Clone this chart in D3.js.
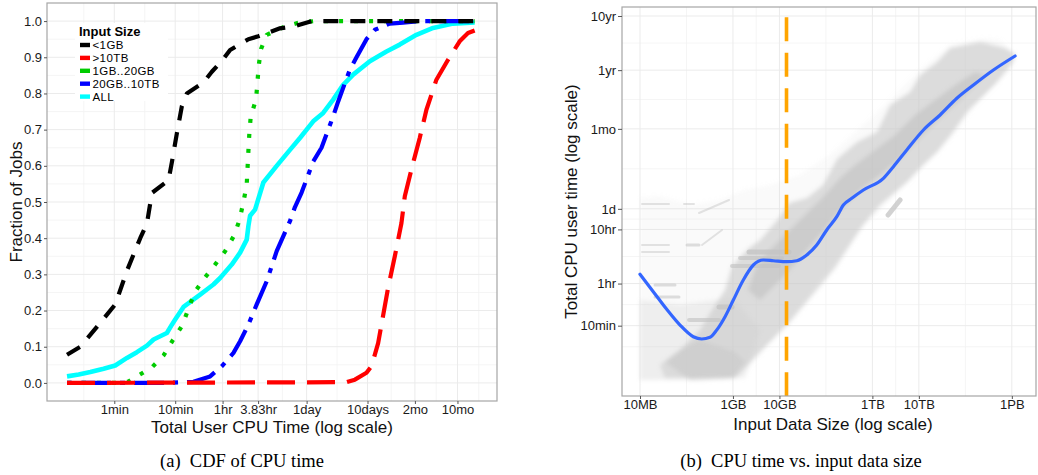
<!DOCTYPE html>
<html><head><meta charset="utf-8">
<script src="https://cdn.jsdelivr.net/npm/d3@7"></script>
<style>
html,body{margin:0;padding:0;background:#fff;}
svg{display:block;font-family:"Liberation Sans",Arial,Helvetica,sans-serif;}
</style></head><body>
<svg id="chart" width="1038" height="475"></svg>
<script>
// ---------------- DATA: left panel (CDF), x = log10(seconds), y = fraction ----------------
const cpuTickLabels = ["1min","10min","1hr","3.83hr","1day","10days","2mo","10mo"];
const cpuTickSeconds = [60, 600, 3600, 13788, 86400, 864000, 5184000, 25920000];
const fracTicks = [0.0,0.1,0.2,0.3,0.4,0.5,0.6,0.7,0.8,0.9,1.0];
const seriesNames = ["<1GB", ">10TB", "1GB..20GB", "20GB..10TB", "ALL"];

const cdfLt1GB = [[1.002,0.078],[1.221,0.10],[1.548,0.166],[1.794,0.217],[1.986,0.31],[2.204,0.40],[2.314,0.44],[2.396,0.525],[2.668,0.56],[2.724,0.61],[2.806,0.69],[2.888,0.765],[2.970,0.80],[3.242,0.83],[3.38,0.86],[3.543,0.89],[3.68,0.92],[3.98,0.95],[4.144,0.958],[4.499,0.98],[4.717,0.985],[5.02,1.0],[7.696,1.0]];
const cdfGt10TB = [[1.002,0],[5.592,0.002],[5.729,0.009],[5.92,0.028],[6.002,0.046],[6.111,0.11],[6.275,0.263],[6.385,0.35],[6.494,0.442],[6.549,0.516],[6.685,0.608],[6.794,0.677],[6.904,0.755],[7.068,0.838],[7.259,0.893],[7.45,0.944],[7.587,0.967],[7.696,0.974]];
const cdf1to20GB = [[1.002,0],[1.849,0],[2.0,0.003],[2.149,0.018],[2.396,0.043],[2.587,0.076],[2.74,0.118],[2.888,0.157],[2.997,0.205],[3.096,0.25],[3.253,0.288],[3.434,0.327],[3.598,0.364],[3.745,0.407],[3.832,0.449],[3.898,0.499],[3.953,0.548],[3.98,0.64],[3.996,0.69],[4.019,0.737],[4.106,0.783],[4.128,0.829],[4.15,0.877],[4.188,0.923],[4.281,0.962],[4.554,0.983],[4.816,0.996],[5.073,1.0],[7.696,1.0]];
const cdf20GBto10TB = [[1.002,0],[2.642,0],[3.078,0.003],[3.352,0.018],[3.543,0.046],[3.735,0.083],[3.844,0.115],[3.98,0.161],[4.117,0.217],[4.281,0.281],[4.445,0.364],[4.663,0.447],[4.745,0.486],[4.854,0.526],[5.045,0.612],[5.181,0.65],[5.373,0.737],[5.455,0.778],[5.647,0.866],[5.756,0.9],[5.92,0.95],[6.057,0.976],[6.302,0.993],[6.521,0.996],[6.794,1.0],[7.696,1.0]];
const cdfAll = [[1.002,0.018],[1.193,0.023],[1.385,0.03],[1.603,0.039],[1.794,0.048],[1.986,0.069],[2.149,0.085],[2.314,0.103],[2.423,0.12],[2.642,0.138],[2.724,0.161],[2.778,0.175],[2.915,0.21],[3.188,0.244],[3.406,0.272],[3.516,0.29],[3.707,0.327],[3.844,0.36],[3.953,0.396],[3.98,0.433],[4.008,0.462],[4.09,0.479],[4.226,0.554],[4.445,0.6],[4.663,0.644],[4.827,0.677],[5.045,0.723],[5.209,0.746],[5.373,0.783],[5.537,0.824],[5.701,0.852],[5.975,0.889],[6.248,0.916],[6.466,0.935],[6.74,0.962],[7.013,0.981],[7.34,0.993],[7.696,0.996]];

// ---------------- DATA: right panel, x = log10(bytes), y = log10(seconds) ----------------
const sizeTickLabels = ["10MB","1GB","10GB","1TB","10TB","1PB"];
const sizeTickBytes = [1e7, 1e9, 1e10, 1e12, 1e13, 1e15];
const timeTickLabels = ["10min","1hr","10hr","1d","1mo","1yr","10yr"];
const timeTickSeconds = [600, 3600, 36000, 86400, 2592000, 31536000, 315360000];
const thresholdBytes = 1.42e10;
const thresholdTopSeconds = 3.0e8;

const smoothFit = [[7.0,3.727],[7.286,3.406],[7.575,3.081],[7.861,2.79],[8.147,2.574],[8.328,2.532],[8.507,2.563],[8.651,2.698],[8.83,2.944],[9.008,3.252],[9.223,3.622],[9.439,3.899],[9.654,3.991],[9.869,3.978],[10.158,3.96],[10.373,3.978],[10.588,4.084],[10.803,4.268],[11.018,4.546],[11.234,4.791],[11.376,5.007],[11.557,5.131],[11.806,5.284],[12.237,5.501],[12.452,5.715],[12.74,6.023],[13.098,6.393],[13.457,6.67],[13.817,6.979],[14.174,7.224],[14.604,7.501],[15.071,7.76]];

// point cloud, read as regions of increasing density
const cloudSparse = [[7.000,5.137],[7.430,5.174],[8.076,5.007],[8.722,5.100],[9.260,5.284],[9.798,5.377],[10.444,5.562],[11.090,5.931],[11.735,6.430],[12.381,6.947],[13.027,7.501],[13.672,7.963],[14.426,8.093],[14.749,8.056],[15.071,7.778],[14.964,7.501],[14.641,7.224],[14.210,6.855],[13.780,6.338],[13.350,5.931],[12.811,5.469],[12.273,5.007],[11.735,4.546],[11.305,4.084],[10.874,3.659],[10.444,3.160],[10.013,2.698],[9.583,2.236],[9.152,1.811],[8.291,1.756],[7.000,1.774]];
const cloudLowLeft = [[7.0,3.252],[7.861,3.160],[8.614,3.252],[9.045,3.252],[9.583,2.698],[9.260,1.811],[7.0,1.774]];
const cloudBand = [[8.076,1.774],[9.045,1.811],[9.690,2.384],[10.207,2.827],[10.767,3.400],[11.197,3.844],[11.520,4.268],[11.800,4.638],[12.166,5.007],[12.747,5.432],[13.091,5.746],[13.393,5.987],[13.737,6.356],[14.038,6.726],[14.318,6.966],[14.684,7.280],[15.028,7.649],[15.071,7.797],[14.856,7.908],[14.598,7.963],[14.318,8.019],[13.672,7.908],[13.393,7.649],[13.027,7.409],[12.811,7.095],[12.381,6.855],[12.101,6.356],[11.671,6.171],[11.240,5.857],[10.939,5.377],[10.594,5.137],[10.207,5.044],[9.992,4.767],[9.583,4.361],[9.346,4.213],[8.980,3.880],[8.830,3.437],[8.614,3.160],[8.291,2.698],[7.861,2.329],[7.538,2.107]];
const cloudCore = [[9.583,3.252],[10.121,3.714],[10.444,4.028],[10.874,4.453],[11.305,4.915],[11.735,5.284],[12.166,5.562],[12.596,5.876],[13.027,6.245],[13.457,6.615],[13.888,6.947],[14.210,7.224],[14.426,7.409],[14.210,7.464],[13.780,7.224],[13.350,6.947],[12.919,6.670],[12.489,6.301],[12.058,6.023],[11.628,5.746],[11.305,5.506],[10.982,5.192],[10.659,4.915],[10.336,4.638],[10.013,4.361],[9.690,4.084],[9.475,3.807],[9.325,3.437]];
const cloudLowBlob = [[7.538,1.811],[8.980,1.811],[9.260,2.107],[9.045,2.292],[8.614,2.421],[8.291,2.513],[7.861,2.329],[7.430,2.052]];
// streaks: [x1, x2, y1, y2, weight]
const cloudStreaks = [[7.043,7.624,5.026,5.026,2],[7.947,8.162,5.026,5.026,2],[8.012,8.270,4.268,4.268,3],[7.043,7.624,4.268,4.268,2],[7.043,7.624,4.139,4.139,2],[7.323,7.753,3.529,3.529,3],[7.323,7.839,3.308,3.308,3],[8.055,8.700,2.883,2.883,4],[8.700,8.980,3.123,3.123,5],[8.980,9.992,3.880,3.880,4],[9.346,10.207,4.139,4.139,5],[9.152,10.056,4.028,4.028,4],[8.270,8.916,4.860,5.100,2],[8.334,8.765,4.268,4.546,2],[12.338,12.596,4.823,5.100,5]];

// ---------------- DRAWING ----------------
const svg = d3.select("#chart");
const p10 = v => Math.pow(10, v);
const FONT = '"Liberation Sans",Arial,Helvetica,sans-serif';

// ===== Left panel =====
const L = {x0:47, x1:497, y0:3, y1:401};
const xL = d3.scaleLog().domain([p10(0.673), p10(8.063)]).range([L.x0, L.x1]);
const yL = d3.scaleLinear().domain([-0.05, 1.05]).range([L.y1, L.y0]);
const gL = svg.append("g");
gL.append("rect").attr("x",L.x0).attr("y",L.y0).attr("width",L.x1-L.x0).attr("height",L.y1-L.y0).attr("fill","#fff");
const lg = cpuTickSeconds.map(Math.log10);
const minorX = [lg[0]-(lg[1]-lg[0])/2];
for (let i=0;i<lg.length-1;i++) minorX.push((lg[i]+lg[i+1])/2);
minorX.push(lg[lg.length-1]+(lg[lg.length-1]-lg[lg.length-2])/2);
gL.selectAll(".mx").data(minorX).join("line").attr("x1",d=>xL(p10(d))).attr("x2",d=>xL(p10(d))).attr("y1",L.y0).attr("y2",L.y1).attr("stroke","#f3f3f3").attr("stroke-width",0.8);
const minorY = fracTicks.slice(0,-1).map((d,i)=>(d+fracTicks[i+1])/2);
gL.selectAll(".my").data(minorY).join("line").attr("x1",L.x0).attr("x2",L.x1).attr("y1",d=>yL(d)).attr("y2",d=>yL(d)).attr("stroke","#f3f3f3").attr("stroke-width",0.8);
gL.selectAll(".gx").data(cpuTickSeconds).join("line").attr("x1",d=>xL(d)).attr("x2",d=>xL(d)).attr("y1",L.y0).attr("y2",L.y1).attr("stroke","#ebebeb").attr("stroke-width",1);
gL.selectAll(".gy").data(fracTicks).join("line").attr("x1",L.x0).attr("x2",L.x1).attr("y1",d=>yL(d)).attr("y2",d=>yL(d)).attr("stroke","#ebebeb").attr("stroke-width",1);

svg.append("clipPath").attr("id","clipL").append("rect").attr("x",L.x0).attr("y",L.y0).attr("width",L.x1-L.x0).attr("height",L.y1-L.y0);
const lineL = d3.line().x(d=>xL(p10(d[0]))).y(d=>yL(d[1]));
const curves = [
  {data:cdfAll, color:"#00FFFF", width:4.6, dash:null},
  {data:cdf1to20GB, color:"#00CC00", width:4.2, dash:"4,11"},
  {data:cdf20GBto10TB, color:"#0000FF", width:4.2, dash:"5,9,30,9"},
  {data:cdfLt1GB, color:"#000000", width:4.2, dash:"15,12"},
  {data:cdfGt10TB, color:"#FF0000", width:4.2, dash:"28,12"}
];
const gc = gL.append("g").attr("clip-path","url(#clipL)");
curves.forEach(c=>{
  gc.append("path").attr("d",lineL(c.data)).attr("fill","none").attr("stroke",c.color).attr("stroke-width",c.width)
    .attr("stroke-dasharray",c.dash).attr("stroke-linejoin","round");
});
gL.append("rect").attr("x",L.x0).attr("y",L.y0).attr("width",L.x1-L.x0).attr("height",L.y1-L.y0).attr("fill","none").attr("stroke","#a6a6a6").attr("stroke-width",1.2);
const axL = d3.axisLeft(yL).tickValues(fracTicks).tickFormat(d3.format(".1f")).tickSize(3).tickPadding(2);
const gaL = gL.append("g").attr("transform",`translate(${L.x0},0)`).call(axL);
const axB = d3.axisBottom(xL).tickValues(cpuTickSeconds).tickFormat((d,i)=>cpuTickLabels[i]).tickSize(3).tickPadding(1);
const gaB = gL.append("g").attr("transform",`translate(0,${L.y1})`).call(axB);
[gaL,gaB].forEach(g=>{g.select(".domain").remove(); g.selectAll(".tick line").attr("stroke","#555");
  g.selectAll("text").attr("fill","#1a1a1a").attr("font-family",FONT).attr("font-size",13);});
gL.append("text").attr("x",272).attr("y",433).attr("text-anchor","middle").attr("font-size",17).attr("fill","#111").text("Total User CPU Time (log scale)");
gL.append("text").attr("transform","translate(22,202) rotate(-90)").attr("text-anchor","middle").attr("font-size",17).attr("fill","#111").text("Fraction of Jobs");
// legend
const leg = gL.append("g");
leg.append("rect").attr("x",75).attr("y",23).attr("width",93).attr("height",78).attr("fill","#fff");
leg.append("text").attr("x",79).attr("y",35.5).attr("font-size",13).attr("font-weight","bold").attr("fill","#000").text("Input Size");
const legColors = ["#000000","#FF0000","#00CC00","#0000FF","#00FFFF"];
seriesNames.forEach((n,i)=>{
  const cy = 45 + i*12.9;
  leg.append("rect").attr("x",80).attr("y",cy-2.2).attr("width",10).attr("height",4.4).attr("fill",legColors[i]);
  leg.append("text").attr("x",92.5).attr("y",cy).attr("dy","0.36em").attr("font-size",11.5).attr("letter-spacing","0.4px").attr("fill","#000").text(n);
});

// ===== Right panel =====
const R = {x0:622, x1:1036, y0:7, y1:396};
const xR = d3.scaleLog().domain([p10(6.613), p10(15.52)]).range([R.x0, R.x1]);
const yR = d3.scaleLog().domain([p10(1.479), p10(8.665)]).range([R.y1, R.y0]);
const gR = svg.append("g");
gR.append("rect").attr("x",R.x0).attr("y",R.y0).attr("width",R.x1-R.x0).attr("height",R.y1-R.y0).attr("fill","#fff");
const lx = sizeTickBytes.map(Math.log10);
const minorRX = [];
for (let i=0;i<lx.length-1;i++) minorRX.push((lx[i]+lx[i+1])/2);
const ly = timeTickSeconds.map(Math.log10);
const minorRY = [ly[0]-(ly[1]-ly[0])/2];
for (let i=0;i<ly.length-1;i++) minorRY.push((ly[i]+ly[i+1])/2);
gR.selectAll(".mx").data(minorRX).join("line").attr("x1",d=>xR(p10(d))).attr("x2",d=>xR(p10(d))).attr("y1",R.y0).attr("y2",R.y1).attr("stroke","#f3f3f3").attr("stroke-width",0.8);
gR.selectAll(".my").data(minorRY).join("line").attr("x1",R.x0).attr("x2",R.x1).attr("y1",d=>yR(p10(d))).attr("y2",d=>yR(p10(d))).attr("stroke","#f3f3f3").attr("stroke-width",0.8);
gR.selectAll(".gx").data(sizeTickBytes).join("line").attr("x1",d=>xR(d)).attr("x2",d=>xR(d)).attr("y1",R.y0).attr("y2",R.y1).attr("stroke","#ebebeb").attr("stroke-width",1);
gR.selectAll(".gy").data(timeTickSeconds).join("line").attr("x1",R.x0).attr("x2",R.x1).attr("y1",d=>yR(d)).attr("y2",d=>yR(d)).attr("stroke","#ebebeb").attr("stroke-width",1);

svg.append("clipPath").attr("id","clipR").append("rect").attr("x",R.x0).attr("y",R.y0).attr("width",R.x1-R.x0).attr("height",R.y1-R.y0);
const gp = gR.append("g").attr("clip-path","url(#clipR)");
const lineR = d3.line().x(d=>xR(p10(d[0]))).y(d=>yR(p10(d[1])));
const blur = svg.append("defs").append("filter").attr("id","soft").attr("x","-5%").attr("y","-5%").attr("width","110%").attr("height","110%");
blur.append("feGaussianBlur").attr("stdDeviation",2.2);
const gcloud = gp.append("g").attr("filter","url(#soft)");
gcloud.append("path").attr("d",lineR(cloudSparse)+"Z").attr("fill","#d0d0d0").attr("opacity",0.1);
gcloud.append("path").attr("d",lineR(cloudLowLeft)+"Z").attr("fill","#cccccc").attr("opacity",0.25);
gcloud.append("path").attr("d",lineR(cloudBand)+"Z").attr("fill","#c8c8c8").attr("opacity",0.6);
gcloud.append("path").attr("d",lineR(cloudLowBlob)+"Z").attr("fill","#c8c8c8").attr("opacity",0.5);
gcloud.append("path").attr("d",lineR(cloudCore)+"Z").attr("fill","#c2c2c2").attr("opacity",0.6);
gp.selectAll(".streak").data(cloudStreaks).join("line")
  .attr("x1",d=>xR(p10(d[0]))).attr("x2",d=>xR(p10(d[1]))).attr("y1",d=>yR(p10(d[2]))).attr("y2",d=>yR(p10(d[3])))
  .attr("stroke","#c4c4c4").attr("stroke-width",d=>d[4]).attr("stroke-linecap","round").attr("opacity",d=>0.25+d[4]*0.1);
gp.append("path").attr("d",d3.line().curve(d3.curveMonotoneX).x(d=>xR(p10(d[0]))).y(d=>yR(p10(d[1])))(smoothFit))
  .attr("fill","none").attr("stroke","#3366FF").attr("stroke-width",3.2).attr("stroke-linecap","round");
gp.append("line").attr("x1",xR(thresholdBytes)).attr("x2",xR(thresholdBytes)).attr("y1",yR(thresholdTopSeconds)).attr("y2",R.y1+2)
  .attr("stroke","#FFA500").attr("stroke-width",3.6).attr("stroke-dasharray","24.2,11.3");
gR.append("rect").attr("x",R.x0).attr("y",R.y0).attr("width",R.x1-R.x0).attr("height",R.y1-R.y0).attr("fill","none").attr("stroke","#a6a6a6").attr("stroke-width",1.2);
const axRL = d3.axisLeft(yR).tickValues(timeTickSeconds).tickFormat((d,i)=>timeTickLabels[i]).tickSize(4).tickPadding(2);
const gaRL = gR.append("g").attr("transform",`translate(${R.x0},0)`).call(axRL);
const axRB = d3.axisBottom(xR).tickValues(sizeTickBytes).tickFormat((d,i)=>sizeTickLabels[i]).tickSize(3).tickPadding(0.5);
const gaRB = gR.append("g").attr("transform",`translate(0,${R.y1})`).call(axRB);
[gaRL,gaRB].forEach(g=>{g.select(".domain").remove(); g.selectAll(".tick line").attr("stroke","#555");
  g.selectAll("text").attr("fill","#1a1a1a").attr("font-family",FONT).attr("font-size",13);});
gR.append("text").attr("x",833).attr("y",430).attr("text-anchor","middle").attr("font-size",17).attr("fill","#111").text("Input Data Size (log scale)");
gR.append("text").attr("transform","translate(577,201.5) rotate(-90)").attr("text-anchor","middle").attr("font-size",17).attr("fill","#111").text("Total CPU user time (log scale)");

// captions
svg.append("text").attr("x",242).attr("y",467).attr("text-anchor","middle").attr("font-family",'"Liberation Serif","Times New Roman",serif').attr("font-size",18.5).attr("fill","#000").style("white-space","pre").text("(a)  CDF of CPU time");
svg.append("text").attr("x",801).attr("y",467).attr("text-anchor","middle").attr("font-family",'"Liberation Serif","Times New Roman",serif').attr("font-size",18.5).attr("fill","#000").style("white-space","pre").text("(b)  CPU time vs. input data size");
</script></body></html>
